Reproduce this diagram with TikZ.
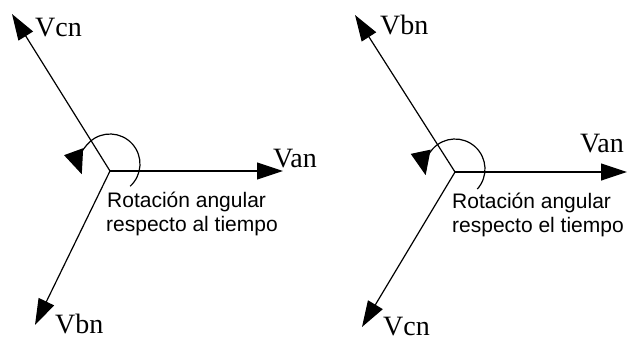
\documentclass[tikz,border=0pt]{standalone}
\usepackage{fontspec}
\setmainfont{Liberation Serif}
\newfontfamily\labelsans{Liberation Sans}
\usetikzlibrary{arrows.meta}
\tikzset{
  vec/.style={line width=1.2pt, -{Triangle[length=26pt,width=17pt]}},
  rot/.style={line width=1.2pt, -{Triangle[length=24pt,width=20pt]}},
  vlabel/.style={inner sep=0pt, anchor=base west, font=\fontsize{28}{30}\selectfont},
  note/.style={inner sep=0pt, anchor=base west, font=\labelsans\fontsize{21}{24}\selectfont, align=left}
}
\begin{document}
\begin{tikzpicture}[x=1pt,y=1pt]
\useasboundingbox (0,0) rectangle (629,341);
% ---- left diagram ----
\coordinate (o1) at (110,170);
\coordinate (van1) at (283,170);
\coordinate (vcn1) at (12,327);
\coordinate (vbn1) at (35,16);
\draw[vec] (o1) -- (van1);
\draw[vec] (o1) -- (vcn1);
\draw[vec] (o1) -- (vbn1);
\coordinate (c1) at (110,177);
\draw[rot] ([shift={(-48:30)}]c1) arc[start angle=-48, end angle=200, radius=30];
\node[vlabel] (lvcn1) at (35,305) {Vcn};
\node[vlabel] (lvan1) at (273,174) {Van};
\node[vlabel] (lvbn1) at (55,8) {Vbn};
\node[note] (t1a) at (107,134) {Rotación angular};
\node[note] (t1b) at (106,110) {respecto al tiempo};
% ---- right diagram ----
\coordinate (o2) at (455,169);
\coordinate (van2) at (627,169);
\coordinate (vbn2) at (355,326);
\coordinate (vcn2) at (362,14);
\draw[vec] (o2) -- (van2);
\draw[vec] (o2) -- (vbn2);
\draw[vec] (o2) -- (vcn2);
\coordinate (c2) at (455,172);
\draw[rot] ([shift={(-42:30)}]c2) arc[start angle=-42, end angle=192, radius=30];
\node[vlabel] (lvbn2) at (380,306) {Vbn};
\node[vlabel] (lvan2) at (580,189) {Van};
\node[vlabel] (lvcn2) at (383,6) {Vcn};
\node[note] (t2a) at (452,133) {Rotación angular};
\node[note] (t2b) at (452,109) {respecto el tiempo};
\end{tikzpicture}
\end{document}
